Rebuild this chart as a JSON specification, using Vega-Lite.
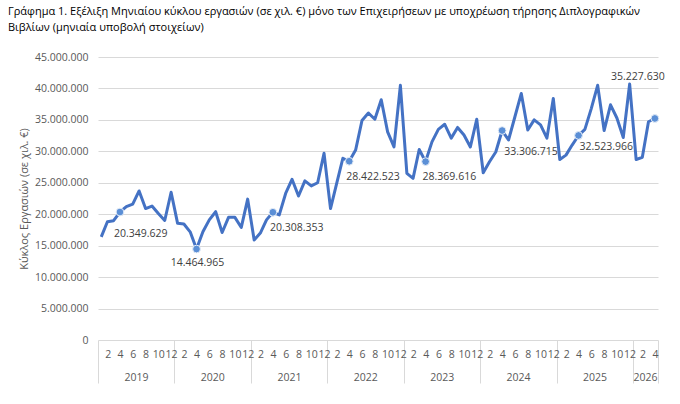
{
  "$schema": "https://vega.github.io/schema/vega-lite/v6.json",
  "width": 560,
  "height": 283,
  "autosize": "none",
  "padding": {"left": 98, "top": 57, "right": 22, "bottom": 64},
  "config": {
    "locale": {"number": {"decimal": ",", "thousands": ".", "grouping": [3], "currency": ["", " €"]}},
    "view": {"stroke": null},
    "font": "Open Sans"
  },
  "title": {
    "text": ["Γράφημα 1. Εξέλιξη Μηνιαίου κύκλου εργασιών (σε χιλ. €) μόνο των Επιχειρήσεων με υποχρέωση τήρησης Διπλογραφικών", "Βιβλίων (μηνιαία υποβολή στοιχείων)"],
    "anchor": "start",
    "frame": "group",
    "orient": "top",
    "dx": -90,
    "offset": 19,
    "font": "Open Sans",
    "fontSize": 11,
    "fontWeight": "normal",
    "color": "#000000",
    "lineHeight": 16
  },
  "data": {
    "values": [
      {"date": "2019-01", "v": 16400000}, {"date": "2019-02", "v": 18800000}, {"date": "2019-03", "v": 18970000}, {"date": "2019-04", "v": 20349629},
      {"date": "2019-05", "v": 21200000}, {"date": "2019-06", "v": 21600000}, {"date": "2019-07", "v": 23700000}, {"date": "2019-08", "v": 20900000},
      {"date": "2019-09", "v": 21300000}, {"date": "2019-10", "v": 20100000}, {"date": "2019-11", "v": 19000000}, {"date": "2019-12", "v": 23500000},
      {"date": "2020-01", "v": 18550000}, {"date": "2020-02", "v": 18450000}, {"date": "2020-03", "v": 17200000}, {"date": "2020-04", "v": 14464965},
      {"date": "2020-05", "v": 17200000}, {"date": "2020-06", "v": 19100000}, {"date": "2020-07", "v": 20400000}, {"date": "2020-08", "v": 17100000},
      {"date": "2020-09", "v": 19500000}, {"date": "2020-10", "v": 19500000}, {"date": "2020-11", "v": 17900000}, {"date": "2020-12", "v": 22400000},
      {"date": "2021-01", "v": 15900000}, {"date": "2021-02", "v": 17000000}, {"date": "2021-03", "v": 19100000}, {"date": "2021-04", "v": 20308353},
      {"date": "2021-05", "v": 19900000}, {"date": "2021-06", "v": 23300000}, {"date": "2021-07", "v": 25550000}, {"date": "2021-08", "v": 22900000},
      {"date": "2021-09", "v": 25300000}, {"date": "2021-10", "v": 24500000}, {"date": "2021-11", "v": 25000000}, {"date": "2021-12", "v": 29700000},
      {"date": "2022-01", "v": 20900000}, {"date": "2022-02", "v": 24900000}, {"date": "2022-03", "v": 28900000}, {"date": "2022-04", "v": 28422523},
      {"date": "2022-05", "v": 30200000}, {"date": "2022-06", "v": 34900000}, {"date": "2022-07", "v": 36100000}, {"date": "2022-08", "v": 35100000},
      {"date": "2022-09", "v": 38200000}, {"date": "2022-10", "v": 33100000}, {"date": "2022-11", "v": 30700000}, {"date": "2022-12", "v": 40500000},
      {"date": "2023-01", "v": 26500000}, {"date": "2023-02", "v": 25700000}, {"date": "2023-03", "v": 30300000}, {"date": "2023-04", "v": 28369616},
      {"date": "2023-05", "v": 31500000}, {"date": "2023-06", "v": 33500000}, {"date": "2023-07", "v": 34300000}, {"date": "2023-08", "v": 32100000},
      {"date": "2023-09", "v": 33800000}, {"date": "2023-10", "v": 32600000}, {"date": "2023-11", "v": 30700000}, {"date": "2023-12", "v": 35100000},
      {"date": "2024-01", "v": 26600000}, {"date": "2024-02", "v": 28350000}, {"date": "2024-03", "v": 29900000}, {"date": "2024-04", "v": 33306715},
      {"date": "2024-05", "v": 31800000}, {"date": "2024-06", "v": 35500000}, {"date": "2024-07", "v": 39200000}, {"date": "2024-08", "v": 33400000},
      {"date": "2024-09", "v": 35000000}, {"date": "2024-10", "v": 34200000}, {"date": "2024-11", "v": 32100000}, {"date": "2024-12", "v": 38400000},
      {"date": "2025-01", "v": 28700000}, {"date": "2025-02", "v": 29400000}, {"date": "2025-03", "v": 31000000}, {"date": "2025-04", "v": 32523966},
      {"date": "2025-05", "v": 33500000}, {"date": "2025-06", "v": 36800000}, {"date": "2025-07", "v": 40500000}, {"date": "2025-08", "v": 33300000},
      {"date": "2025-09", "v": 37400000}, {"date": "2025-10", "v": 35300000}, {"date": "2025-11", "v": 32200000}, {"date": "2025-12", "v": 40700000},
      {"date": "2026-01", "v": 28700000}, {"date": "2026-02", "v": 29050000}, {"date": "2026-03", "v": 34700000}, {"date": "2026-04", "v": 35227630}
    ],
    "format": {"parse": {"date": "utc:'%Y-%m'"}}
  },
  "layer": [
    {
      "mark": {"type": "point", "opacity": 0},
      "encoding": {
        "x": {
          "field": "date", "type": "temporal",
          "scale": {"type": "utc", "domain": [{"year": 2019, "month": 1, "date": 1, "utc": true}, {"year": 2026, "month": 5, "date": 1, "utc": true}], "nice": false},
          "axis": {
            "orient": "bottom",
            "title": null,
            "domain": false,
            "grid": false,
            "values": [
              {"year": 2019, "month": 1, "date": 1, "utc": true}, {"year": 2020, "month": 1, "date": 1, "utc": true},
              {"year": 2021, "month": 1, "date": 1, "utc": true}, {"year": 2022, "month": 1, "date": 1, "utc": true},
              {"year": 2023, "month": 1, "date": 1, "utc": true}, {"year": 2024, "month": 1, "date": 1, "utc": true},
              {"year": 2025, "month": 1, "date": 1, "utc": true}, {"year": 2026, "month": 1, "date": 1, "utc": true},
              {"year": 2026, "month": 5, "date": 1, "utc": true}
            ],
            "labelExpr": "utcmonth(datum.value) == 4 ? '' : utcFormat(datum.value, '%Y')",
            "ticks": true,
            "tickSize": 43,
            "tickColor": "#d9d9d9",
            "tickWidth": 1,
            "labelPadding": -11,
            "labelAlign": "center",
            "labelOffset": {"condition": {"test": "utcyear(datum.value) == 2026", "value": 12}, "value": 38},
            "labelOverlap": false,
            "labelBound": false,
            "labelFlush": false,
            "labelFontSize": 10.5,
            "labelColor": "#595959",
            "labelFont": "Open Sans"
          }
        },
        "y": {
          "field": "v", "type": "quantitative",
          "scale": {"domain": [0, 45000000], "nice": false},
          "axis": {
            "orient": "left",
            "title": "Κύκλος Εργασιών (σε χιλ. €)",
            "titleFont": "Open Sans",
            "titleFontSize": 11,
            "titleFontWeight": "normal",
            "titleColor": "#595959",
            "titlePadding": 5,
            "values": [0, 5000000, 10000000, 15000000, 20000000, 25000000, 30000000, 35000000, 40000000, 45000000],
            "labelExpr": "format(datum.value, ',')",
            "domain": false,
            "ticks": false,
            "grid": true,
            "labelPadding": 10,
            "labelFontSize": 10.5,
            "labelColor": "#595959",
            "labelFont": "Open Sans",
            "gridColor": "#d9d9d9",
            "gridWidth": 1
          }
        }
      }
    },
    {
      "mark": {"type": "line", "color": "#4472c4", "strokeWidth": 3, "strokeJoin": "round"},
      "encoding": {
        "x": {
          "field": "date", "timeUnit": "utcyearmonth", "type": "temporal", "bandPosition": 0.5,
          "axis": {
            "orient": "bottom",
            "title": null,
            "domain": false,
            "grid": false,
            "ticks": false,
            "tickCount": {"interval": "month", "step": 1},
            "labelExpr": "utcmonth(datum.value) % 2 == 1 ? utcFormat(datum.value, '%-m') : ''",
            "labelOffset": 3.2,
            "labelPadding": 9,
            "labelOverlap": false,
            "labelBound": false,
            "labelFlush": false,
            "labelFontSize": 10.5,
            "labelColor": "#595959",
            "labelFont": "Open Sans"
          }
        },
        "y": {"field": "v", "type": "quantitative", "axis": null}
      }
    },
    {
      "transform": [{"filter": "utcmonth(datum.date) == 3"}],
      "mark": {"type": "point", "filled": true, "size": 60, "fill": "#5b8fd6", "stroke": "#e6eef8", "strokeWidth": 1, "opacity": 1},
      "encoding": {
        "x": {"field": "date", "timeUnit": "utcyearmonth", "type": "temporal", "bandPosition": 0.5, "axis": null},
        "y": {"field": "v", "type": "quantitative", "axis": null}
      }
    },
    {
      "transform": [{"filter": "utcmonth(datum.date) == 3 && utcyear(datum.date) == 2019"}],
      "mark": {"type": "text", "align": "left", "baseline": "middle", "dx": -6, "dy": 22, "fontSize": 10.5, "color": "#404040", "font": "Open Sans"},
      "encoding": {
        "x": {"field": "date", "timeUnit": "utcyearmonth", "type": "temporal", "bandPosition": 0.5, "axis": null},
        "y": {"field": "v", "type": "quantitative", "axis": null},
        "text": {"field": "v", "type": "quantitative", "format": ","}
      }
    },
    {
      "transform": [{"filter": "utcmonth(datum.date) == 3 && utcyear(datum.date) == 2024"}],
      "mark": {"type": "text", "align": "left", "baseline": "middle", "dx": 2, "dy": 21, "fontSize": 10.5, "color": "#404040", "font": "Open Sans"},
      "encoding": {
        "x": {"field": "date", "timeUnit": "utcyearmonth", "type": "temporal", "bandPosition": 0.5, "axis": null},
        "y": {"field": "v", "type": "quantitative", "axis": null},
        "text": {"field": "v", "type": "quantitative", "format": ","}
      }
    },
    {
      "transform": [{"filter": "utcmonth(datum.date) == 3 && (utcyear(datum.date) == 2021 || utcyear(datum.date) == 2022 || utcyear(datum.date) == 2023)"}],
      "mark": {"type": "text", "align": "left", "baseline": "middle", "dx": -3, "dy": 15.5, "fontSize": 10.5, "color": "#404040", "font": "Open Sans"},
      "encoding": {
        "x": {"field": "date", "timeUnit": "utcyearmonth", "type": "temporal", "bandPosition": 0.5, "axis": null},
        "y": {"field": "v", "type": "quantitative", "axis": null},
        "text": {"field": "v", "type": "quantitative", "format": ","}
      }
    },
    {
      "transform": [{"filter": "utcmonth(datum.date) == 3 && utcyear(datum.date) == 2025"}],
      "mark": {"type": "text", "align": "left", "baseline": "middle", "dx": 1, "dy": 12, "fontSize": 10.5, "color": "#404040", "font": "Open Sans"},
      "encoding": {
        "x": {"field": "date", "timeUnit": "utcyearmonth", "type": "temporal", "bandPosition": 0.5, "axis": null},
        "y": {"field": "v", "type": "quantitative", "axis": null},
        "text": {"field": "v", "type": "quantitative", "format": ","}
      }
    },
    {
      "transform": [{"filter": "utcmonth(datum.date) == 3 && utcyear(datum.date) == 2020"}],
      "mark": {"type": "text", "align": "center", "baseline": "middle", "dx": 1, "dy": 14, "fontSize": 10.5, "color": "#404040", "font": "Open Sans"},
      "encoding": {
        "x": {"field": "date", "timeUnit": "utcyearmonth", "type": "temporal", "bandPosition": 0.5, "axis": null},
        "y": {"field": "v", "type": "quantitative", "axis": null},
        "text": {"field": "v", "type": "quantitative", "format": ","}
      }
    },
    {
      "transform": [{"filter": "utcmonth(datum.date) == 3 && utcyear(datum.date) == 2026"}],
      "mark": {"type": "text", "align": "center", "baseline": "middle", "dx": -17, "dy": -41, "fontSize": 10.5, "color": "#404040", "font": "Open Sans"},
      "encoding": {
        "x": {"field": "date", "timeUnit": "utcyearmonth", "type": "temporal", "bandPosition": 0.5, "axis": null},
        "y": {"field": "v", "type": "quantitative", "axis": null},
        "text": {"field": "v", "type": "quantitative", "format": ","}
      }
    }
  ],
  "resolve": {"axis": {"x": "independent", "y": "independent"}}
}
